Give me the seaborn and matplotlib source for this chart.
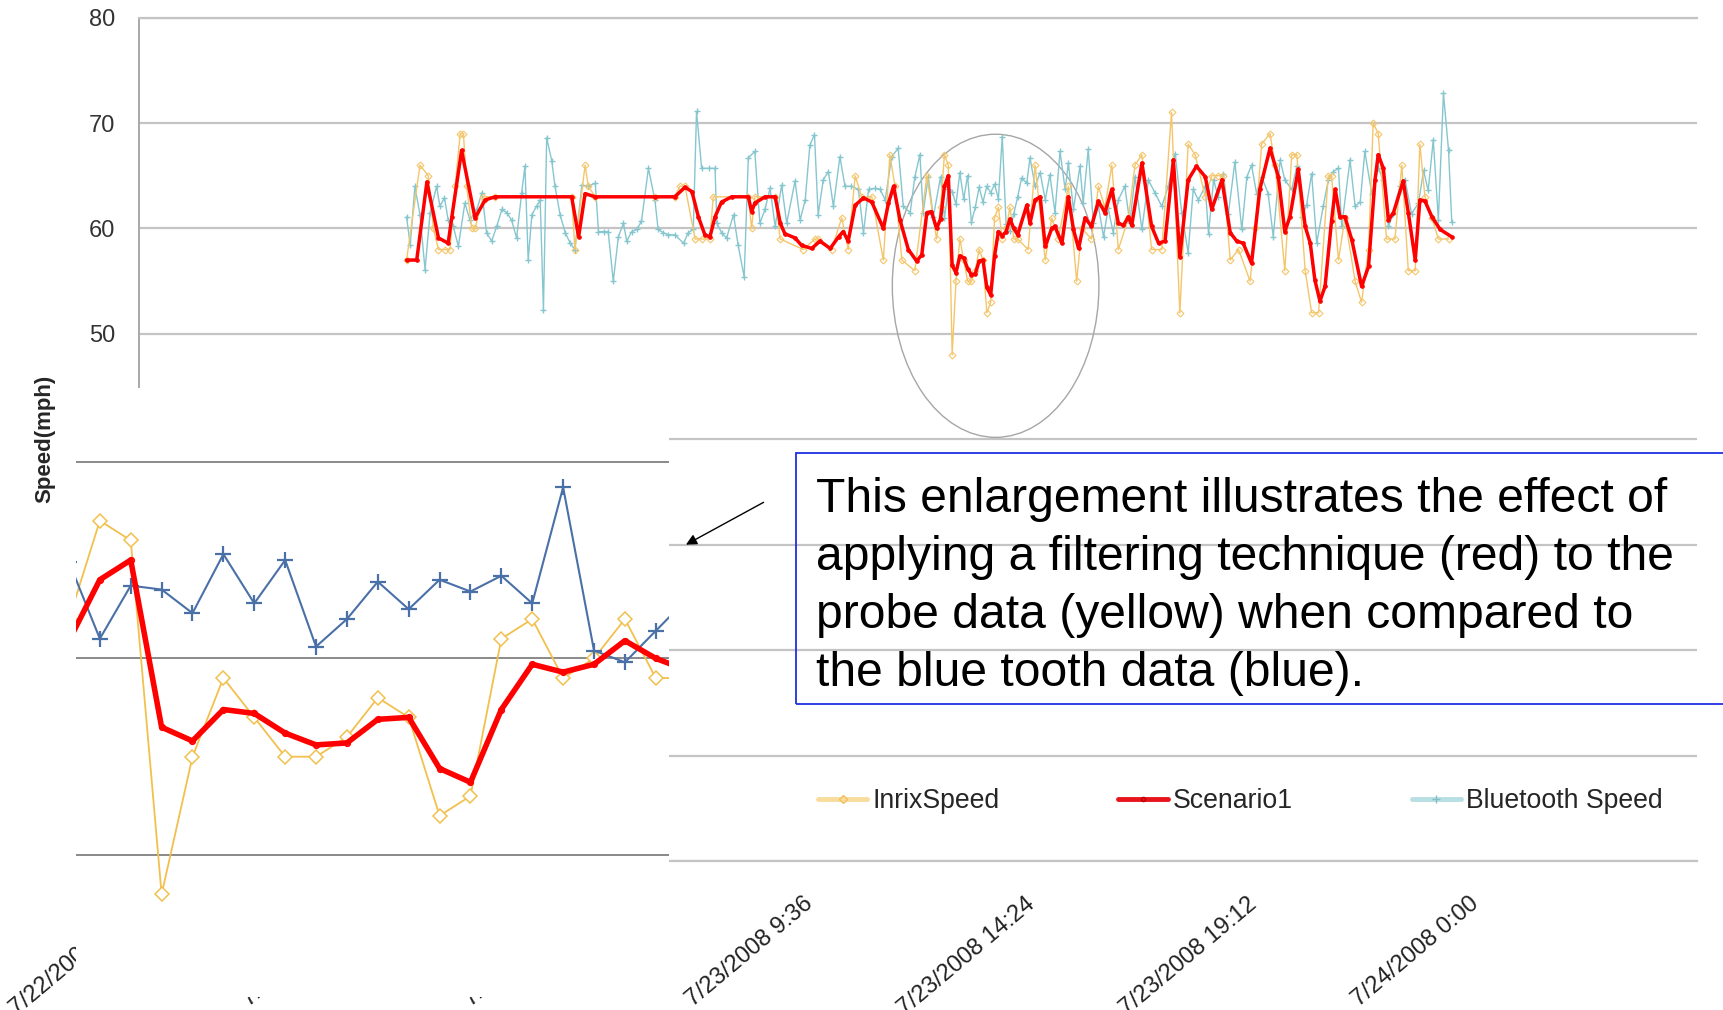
import matplotlib
matplotlib.use("Agg")
import matplotlib.pyplot as plt
from matplotlib.lines import Line2D
from matplotlib.patches import Ellipse, Rectangle
from matplotlib.transforms import ScaledTranslation
import pandas as pd
import seaborn as sns

sns.set_style("white")
plt.rcParams["font.family"] = ["Liberation Sans", "DejaVu Sans"]

# time axis: hours after 7/23/2008 0:00
tick_hours = [-4.8, 0.0, 4.8, 9.6, 14.4, 19.2, 24.0]
tick_labels = ["7/22/2008 19:12", "7/23/2008 0:00", "7/23/2008 4:48", "7/23/2008 9:36",
               "7/23/2008 14:24", "7/23/2008 19:12", "7/24/2008 0:00"]

# enlarged window: 5-minute samples starting 12:12
zoom_start = 12.207
zoom_inrix = [62, 67, 66, 48, 55, 59, 57, 55, 55, 56, 58, 57, 52, 53, 61, 62, 59, 60, 62, 59, 59]
zoom_scen = [60.9, 64.0, 65.0, 56.5, 55.8, 57.4, 57.2, 56.2, 55.6, 55.7, 56.9, 57.0, 54.4, 53.7,
             57.4, 59.7, 59.3, 59.7, 60.9, 60.0, 59.4]
zoom_bt = [64.9, 61.0, 63.7, 63.5, 62.3, 65.3, 62.8, 65.0, 60.6, 62.0, 63.9, 62.5, 64.0, 63.4,
           64.2, 62.8, 68.7, 60.4, 59.8, 61.4, 63.0]

# InrixSpeed outside the enlarged window
inrix_h_a = [0.66, 0.95, 1.13, 1.24, 1.35, 1.49, 1.60, 1.71, 1.82, 1.89, 1.96, 2.07, 2.14, 2.32, 2.57,
             4.23, 4.30, 4.52, 4.59, 4.74, 6.03, 6.46, 6.57, 6.68, 6.90, 7.04, 7.22, 7.29, 8.05, 8.12,
             8.19, 8.63, 8.74, 9.24, 9.49, 9.56, 9.85, 10.07, 10.21, 10.36, 10.50, 10.72, 10.97, 11.11,
             11.22, 11.37, 11.65, 11.91, 12.12]
inrix_a = [57, 66, 65, 60, 58, 58, 58, 64, 69, 69, 64, 60, 60, 63, 63, 63, 58, 66, 64, 63, 63, 63, 64,
           64, 59, 59, 59, 63, 63, 60, 63, 63, 59, 58, 59, 59, 58, 61, 58, 65, 63, 63, 57, 67, 64, 57,
           56, 65, 59]
inrix_h_b = [14.10, 14.25, 14.47, 14.61, 14.75, 14.97, 15.15, 15.26, 15.47, 15.62, 15.76, 15.91, 16.05,
             16.27, 16.41, 16.56, 16.77, 16.99, 17.20, 17.38, 17.56, 17.71, 17.93, 18.07, 18.21, 18.32,
             18.47, 18.65, 18.90, 19.01, 19.15, 19.33, 19.44, 19.65, 19.80, 19.91, 20.09, 20.23, 20.38,
             20.59, 20.66, 20.81, 20.95, 21.17, 21.31, 21.46, 21.56, 21.67, 21.85, 22.03, 22.18, 22.32,
             22.47, 22.57, 22.68, 22.83, 22.97, 23.19]
inrix_b = [58, 66, 57, 61, 59, 64, 55, 60, 59, 64, 62, 66, 58, 61, 66, 67, 58, 58, 71, 52, 68, 67, 63,
           65, 65, 65, 57, 58, 55, 60, 68, 69, 66, 56, 67, 67, 56, 52, 52, 65, 65, 57, 61, 55, 53, 58,
           70, 69, 59, 59, 66, 56, 56, 68, 63, 61, 59, 59]

# Scenario1 (filtered) outside the enlarged window
scen_h_a = [0.66, 0.88, 1.10, 1.35, 1.56, 1.64, 1.85, 2.14, 2.36, 2.57, 4.23, 4.38, 4.52, 4.74, 6.03,
            6.46, 6.68, 6.83, 6.97, 7.11, 7.22, 7.33, 7.47, 7.69, 8.05, 8.12, 8.19, 8.41, 8.63, 8.74,
            8.84, 9.06, 9.20, 9.42, 9.60, 9.82, 10.00, 10.10, 10.21, 10.36, 10.54, 10.72, 10.97, 11.08,
            11.19, 11.33, 11.51, 11.69, 11.80, 11.91, 12.01, 12.12]
scen_a = [57.0, 57.0, 64.4, 59.1, 58.6, 61.1, 67.4, 61.0, 62.7, 63.0, 63.0, 59.2, 63.3, 63.0, 63.0,
          63.0, 63.9, 63.5, 61.1, 59.4, 59.2, 61.1, 62.5, 63.0, 63.0, 61.6, 62.4, 63.0, 63.0, 60.5,
          59.5, 59.1, 58.4, 58.1, 58.8, 58.1, 59.2, 59.7, 58.8, 62.2, 62.9, 62.5, 60.0, 62.4, 64.0,
          60.8, 58.0, 56.9, 57.5, 61.5, 61.6, 60.0]
scen_h_b = [14.07, 14.14, 14.25, 14.36, 14.47, 14.61, 14.68, 14.83, 14.97, 15.08, 15.19, 15.33, 15.47,
            15.62, 15.76, 15.91, 16.05, 16.16, 16.27, 16.34, 16.56, 16.77, 16.92, 17.06, 17.24, 17.38,
            17.56, 17.74, 17.93, 18.07, 18.29, 18.47, 18.61, 18.75, 18.93, 19.11, 19.33, 19.51, 19.65,
            19.76, 19.94, 20.09, 20.20, 20.30, 20.41, 20.52, 20.66, 20.74, 20.84, 20.95, 21.10, 21.31,
            21.46, 21.60, 21.67, 21.78, 21.89, 22.00, 22.21, 22.32, 22.47, 22.57, 22.68, 22.83, 23.01,
            23.26]
scen_b = [62.2, 60.5, 62.7, 63.0, 58.3, 60.0, 60.2, 58.6, 63.0, 59.9, 58.1, 61.0, 60.2, 62.6, 61.5,
          63.7, 60.5, 60.3, 61.1, 60.3, 66.2, 60.2, 58.6, 58.8, 66.5, 57.3, 64.6, 65.9, 64.9, 61.8,
          64.6, 59.6, 58.8, 58.6, 56.7, 63.7, 67.6, 64.9, 59.7, 61.1, 65.6, 60.2, 58.6, 55.1, 53.1,
          54.5, 60.7, 63.7, 61.1, 61.1, 58.9, 54.5, 56.4, 64.6, 67.0, 65.7, 60.8, 61.5, 64.5, 61.5,
          57.0, 62.7, 62.6, 61.1, 59.9, 59.2]

# Bluetooth Speed outside the enlarged window
bt_h_a = [0.66, 0.74, 0.84, 0.95, 1.06, 1.17, 1.31, 1.38, 1.48, 1.56, 1.67, 1.78, 1.92, 2.03, 2.18,
          2.29, 2.39, 2.50, 2.61, 2.72, 2.83, 2.93, 3.04, 3.15, 3.22, 3.29, 3.37, 3.47, 3.55, 3.62,
          3.69, 3.80, 3.87, 3.98, 4.09, 4.20, 4.30, 4.45, 4.59, 4.74, 4.81, 4.92, 5.02, 5.13, 5.24,
          5.35, 5.42, 5.53, 5.64, 5.74, 5.89, 6.03, 6.10, 6.21, 6.32, 6.46, 6.65, 6.75, 6.86, 6.93,
          7.04, 7.19, 7.33, 7.37, 7.47, 7.58, 7.73, 7.83, 7.96, 8.05, 8.19, 8.30, 8.41, 8.52, 8.63,
          8.77, 8.88, 9.06, 9.17, 9.28, 9.38, 9.48, 9.56, 9.67, 9.78, 9.89, 10.03, 10.14, 10.28,
          10.43, 10.54, 10.65, 10.79, 10.90, 11.01, 11.15, 11.29, 11.40, 11.55, 11.65, 11.76, 11.83,
          11.94, 12.05]
bt_a = [61.1, 58.4, 64.0, 61.3, 56.1, 61.5, 64.0, 62.1, 62.9, 60.8, 60.2, 58.3, 62.4, 60.8, 61.8,
        63.4, 59.6, 58.8, 60.2, 61.8, 61.5, 60.8, 59.1, 63.4, 65.9, 57.0, 61.3, 62.1, 62.7, 52.3,
        68.6, 66.4, 64.0, 61.3, 59.6, 58.6, 58.0, 64.1, 64.0, 64.3, 59.7, 59.7, 59.7, 55.0, 59.2,
        60.5, 58.8, 59.7, 59.9, 60.7, 65.7, 62.7, 59.9, 59.6, 59.4, 59.4, 58.6, 59.6, 59.9, 71.1,
        65.7, 65.7, 65.7, 60.5, 59.6, 59.1, 61.3, 58.4, 55.4, 66.7, 67.3, 60.5, 61.8, 63.8, 60.2,
        64.1, 60.5, 64.5, 60.8, 62.7, 67.9, 68.9, 61.3, 64.6, 65.4, 62.1, 66.8, 64.0, 64.0, 63.7,
        59.6, 63.7, 63.8, 63.7, 62.7, 66.8, 67.6, 62.1, 61.5, 64.9, 67.0, 61.5, 64.9, 61.1]
bt_h_b = [13.96, 14.07, 14.14, 14.25, 14.36, 14.47, 14.57, 14.68, 14.79, 14.90, 14.97, 15.08, 15.22,
          15.29, 15.40, 15.51, 15.62, 15.73, 15.83, 15.94, 16.05, 16.19, 16.30, 16.41, 16.56, 16.70,
          16.84, 16.99, 17.13, 17.28, 17.42, 17.56, 17.67, 17.78, 17.93, 18.00, 18.11, 18.21, 18.32,
          18.43, 18.57, 18.72, 18.83, 18.93, 19.04, 19.15, 19.29, 19.40, 19.55, 19.65, 19.80, 19.91,
          20.02, 20.12, 20.23, 20.34, 20.48, 20.59, 20.70, 20.81, 20.88, 21.06, 21.17, 21.28, 21.38,
          21.53, 21.67, 21.78, 21.89, 22.00, 22.14, 22.25, 22.39, 22.54, 22.65, 22.75, 22.86, 22.97,
          23.08, 23.19, 23.26]
bt_b = [64.8, 64.3, 66.7, 64.0, 65.3, 62.7, 65.1, 61.5, 67.3, 63.7, 66.2, 61.8, 65.9, 62.4, 67.5,
        60.5, 62.1, 59.2, 61.9, 59.6, 62.7, 64.0, 60.5, 64.9, 59.9, 64.6, 63.4, 62.1, 64.0, 67.1,
        61.5, 57.7, 63.7, 62.7, 64.0, 59.5, 64.6, 63.0, 65.2, 61.4, 66.3, 59.9, 64.9, 66.0, 63.3,
        64.9, 63.3, 59.2, 66.5, 64.6, 63.7, 65.9, 61.1, 62.2, 65.2, 58.6, 62.1, 64.6, 65.4, 65.7,
        60.2, 66.5, 62.1, 62.5, 67.3, 63.3, 65.7, 64.6, 60.2, 61.4, 64.0, 64.6, 61.4, 62.4, 65.5,
        63.6, 68.4, 60.8, 72.8, 67.4, 60.6]

series_names = ["InrixSpeed", "Scenario1", "Bluetooth Speed"]
note = ("This enlargement illustrates the effect of\n"
        "applying a filtering technique (red) to the\n"
        "probe data (yellow) when compared to\n"
        "the blue tooth data (blue).")

zoom_hours = [zoom_start + k / 12 for k in range(len(zoom_scen))]
zoom_df = pd.DataFrame({"hour": zoom_hours, "inrix": zoom_inrix, "scen": zoom_scen, "bt": zoom_bt})
inrix_df = pd.DataFrame({"hour": inrix_h_a + zoom_hours + inrix_h_b, "mph": inrix_a + zoom_inrix + inrix_b})
scen_df = pd.DataFrame({"hour": scen_h_a + zoom_hours + scen_h_b, "mph": scen_a + zoom_scen + scen_b})
bt_df = pd.DataFrame({"hour": bt_h_a + zoom_hours + bt_h_b, "mph": bt_a + zoom_bt + bt_b})

RED = "#FF0000"
LIGHT_YELLOW = "#F4C66C"
LIGHT_TEAL = "#86C6CF"
GRID = "#C4C4C4"

fig = plt.figure(figsize=(17.23, 10.10), dpi=100)

# ---- main chart ----
ax = fig.add_axes([0.0807, 0.1475, 0.9042, 0.8351])
sns.lineplot(data=bt_df, x="hour", y="mph", ax=ax, color=LIGHT_TEAL, lw=1.0, marker="+",
             markersize=5, markeredgecolor=LIGHT_TEAL, markeredgewidth=1.0,
             sort=False, estimator=None, legend=False)
sns.lineplot(data=inrix_df, x="hour", y="mph", ax=ax, color=LIGHT_YELLOW, lw=1.0, marker="D",
             markersize=3.5, markeredgecolor=LIGHT_YELLOW, markerfacecolor="none",
             markeredgewidth=0.8, sort=False, estimator=None, legend=False)
sns.lineplot(data=scen_df, x="hour", y="mph", ax=ax, color=RED, lw=2.5, marker="o",
             markersize=2.5, markeredgecolor=RED, markeredgewidth=0.8,
             sort=False, estimator=None, legend=False)

ax.set_xlim(-5.124, 28.562)
ax.set_ylim(0, 80)
ax.set_yticks(range(0, 81, 10))
ax.set_xticks(tick_hours)
ax.set_xticklabels(tick_labels, rotation=40, ha="right", va="top", rotation_mode="anchor")
ax.tick_params(axis="x", length=0, pad=23, labelsize=17, labelcolor="#222222")
ax.tick_params(axis="y", length=0, pad=17, labelsize=17, labelcolor="#333333")
shift = ScaledTranslation(-0.17, 0, fig.dpi_scale_trans)
for lab in ax.get_xticklabels():
    lab.set_transform(lab.get_transform() + shift)
ax.grid(axis="y", color=GRID, lw=1.6)
ax.grid(axis="x", visible=False)
for side in ["top", "bottom"]:
    ax.spines[side].set_color(GRID)
    ax.spines[side].set_linewidth(1.6)
ax.spines["right"].set_visible(False)
ax.spines["left"].set_color("#A8A8A8")
ax.spines["left"].set_linewidth(1.4)
ax.set_xlabel("")
ax.set_ylabel("Speed(mph)", fontsize=16, fontweight="bold", labelpad=24)

ax.add_patch(Ellipse((13.397, 54.56), width=4.467, height=28.75, fill=False,
                     edgecolor="#A6A6A6", lw=1.0))

handles = [
    Line2D([], [], color="#F8DC9C", lw=3.5, marker="D", markersize=4, markeredgecolor="#F0C060",
           markerfacecolor="#F8DC9C"),
    Line2D([], [], color="#E8141C", lw=3.5, marker="o", markersize=3, markeredgecolor="#C00000"),
    Line2D([], [], color="#B8DFE3", lw=3.5, marker="+", markersize=6, markeredgecolor="#80C0C8"),
]
ax.legend(handles, series_names, loc="center left", bbox_to_anchor=(818 / 1723, 1 - 801 / 1010),
          bbox_transform=fig.transFigure, ncol=3, frameon=False, fontsize=19.2,
          handlelength=1.85, handletextpad=0.2, columnspacing=4.45, borderpad=0, borderaxespad=0)

# note box and arrow
fig.add_artist(Rectangle((795.6 / 1723, 1 - 704.4 / 1010), 0.6, 251.7 / 1010,
                         transform=fig.transFigure, fill=False, edgecolor="#1F2FE0", lw=1.3))
fig.text(816.5 / 1723, 1 - 477 / 1010, note, ha="left", va="top", fontsize=34.6,
         linespacing=1.37, color="black")
ax.annotate("", xy=(683.5 / 1723, 1 - 546 / 1010), xytext=(766 / 1723, 1 - 501 / 1010),
            xycoords="figure fraction", textcoords="figure fraction",
            arrowprops=dict(arrowstyle="-|>", color="black", lw=1.0, mutation_scale=16))

# ---- enlargement ----
ax_in = fig.add_axes([76 / 1723, 1 - 997 / 1010, 593 / 1723, 609 / 1010])
ax_in.set_facecolor("white")
sns.lineplot(data=zoom_df, x="hour", y="inrix", ax=ax_in, color="#F2C04E", lw=1.3, marker="D",
             markersize=7, markeredgecolor="#F2C04E", markerfacecolor="white",
             markeredgewidth=1.1, sort=False, estimator=None, legend=False)
sns.lineplot(data=zoom_df, x="hour", y="bt", ax=ax_in, color="#4A70A8", lw=1.5, marker="+",
             markersize=11, markeredgecolor="#4A70A8", markeredgewidth=1.6,
             sort=False, estimator=None, legend=False)
sns.lineplot(data=zoom_df, x="hour", y="scen", ax=ax_in, color=RED, lw=4.0, marker="o",
             markersize=4, markeredgecolor=RED, markerfacecolor="none", markeredgewidth=1.2,
             sort=False, estimator=None, legend=False)
ax_in.set_xlim(12.226, 13.826)
ax_in.set_ylim(42.78, 73.75)
ax_in.set_xticks([])
ax_in.set_yticks([50, 60, 70])
ax_in.tick_params(left=False, labelleft=False)
ax_in.grid(axis="y", color="#808080", lw=1.3)
ax_in.set_xlabel("")
ax_in.set_ylabel("")
for s in ax_in.spines.values():
    s.set_visible(False)

fig.savefig("out.png", dpi=100)
